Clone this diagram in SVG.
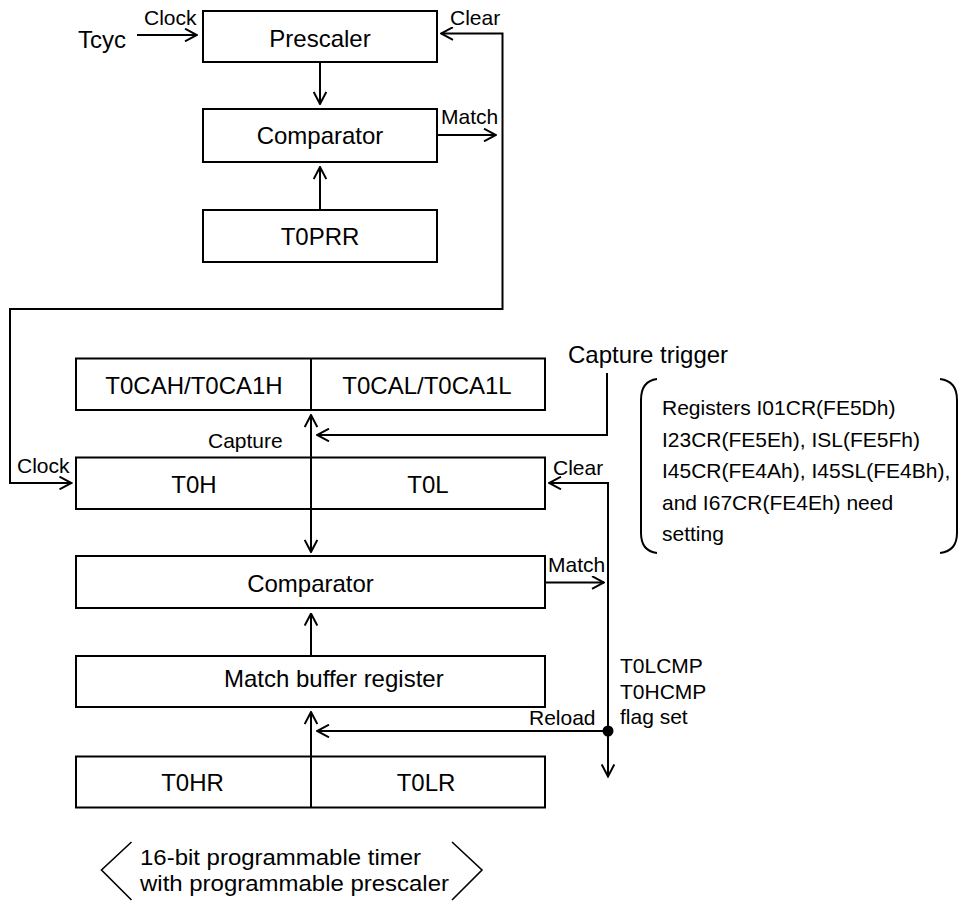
<svg xmlns="http://www.w3.org/2000/svg" width="966" height="906" viewBox="0 0 966 906">
<style>
.box{fill:#fff;stroke:#000;stroke-width:2}
.ln{fill:none;stroke:#000;stroke-width:2}
.big{font-family:"Liberation Sans",Arial,sans-serif;font-size:24px;fill:#000}
.sm{font-family:"Liberation Sans",Arial,sans-serif;font-size:21px;fill:#000}
.cap{font-family:"Liberation Sans",Arial,sans-serif;font-size:22px;fill:#000}
.mid{text-anchor:middle}
</style>
<defs>
<marker id="arr" viewBox="0 0 14 14" markerWidth="14" markerHeight="14" refX="13" refY="7" markerUnits="userSpaceOnUse" orient="auto-start-reverse">
<path d="M1,0.7 L13,7 L1,13.3" fill="none" stroke="#000" stroke-width="2"/>
</marker>
</defs>
<rect width="966" height="906" fill="#fff"/>

<g id="connectors">
<path class="ln" d="M137 35 H197" marker-end="url(#arr)"/>
<path class="ln" d="M320 62 V104" marker-end="url(#arr)"/>
<path class="ln" d="M320 210 V167" marker-end="url(#arr)"/>
<path class="ln" d="M437 135 H496" marker-end="url(#arr)"/>
<path class="ln" d="M71.5 483 H10 V309 H502.5 V33.5 H441" marker-start="url(#arr)" marker-end="url(#arr)"/>
<path class="ln" d="M607 373 V435 H317" marker-end="url(#arr)"/>
<path class="ln" d="M311 415 V552" marker-start="url(#arr)" marker-end="url(#arr)"/>
<path class="ln" d="M608 776.5 V483 H549" marker-start="url(#arr)" marker-end="url(#arr)"/>
<path class="ln" d="M545 582.5 H604" marker-end="url(#arr)"/>
<path class="ln" d="M311 656 V613.5" marker-end="url(#arr)"/>
<path class="ln" d="M311 756.5 V712" marker-end="url(#arr)"/>
<path class="ln" d="M608 731 H317" marker-end="url(#arr)"/>
<circle cx="608" cy="731" r="5.5" fill="#000"/>
</g>

<g id="labels">
<text class="big" x="78" y="48">Tcyc</text>
<text class="sm" x="144" y="25">Clock</text>
<text class="sm" x="450" y="25">Clear</text>
<text class="sm" x="441" y="124">Match</text>
<text class="big" x="568" y="363">Capture trigger</text>
<text class="sm" x="208" y="448">Capture</text>
<text class="sm" x="17" y="473">Clock</text>
<text class="sm" x="553" y="475">Clear</text>
<text class="sm" x="548" y="572">Match</text>
<text class="sm" x="529" y="725">Reload</text>
<text class="sm" x="620" y="673">T0LCMP</text>
<text class="sm" x="620" y="698.5">T0HCMP</text>
<text class="sm" x="620" y="724">flag set</text>
</g>

<g id="note">
<path class="ln" d="M657 379 Q641 381 641 400 V533 Q641 551 657 553"/>
<path class="ln" d="M940 379 Q957 381 957 400 V533 Q957 551 940 553"/>
<text class="sm" x="662" y="415">Registers I01CR(FE5Dh)</text>
<text class="sm" x="662" y="446.5">I23CR(FE5Eh), ISL(FE5Fh)</text>
<text class="sm" x="662" y="478">I45CR(FE4Ah), I45SL(FE4Bh),</text>
<text class="sm" x="662" y="509.5">and I67CR(FE4Eh) need</text>
<text class="sm" x="662" y="541">setting</text>
</g>

<g id="prescaler">
<rect class="box" x="203" y="11" width="234" height="51"/>
<text class="big mid" x="320" y="47">Prescaler</text>
</g>
<g id="comparator1">
<rect class="box" x="203" y="109" width="234" height="53"/>
<text class="big mid" x="320" y="144">Comparator</text>
</g>
<g id="t0prr">
<rect class="box" x="203" y="210" width="234" height="52"/>
<text class="big mid" x="320" y="245">T0PRR</text>
</g>
<g id="t0ca">
<rect class="box" x="76" y="358.5" width="469" height="51.5"/>
<line class="ln" x1="311" y1="358.5" x2="311" y2="410"/>
<text class="big mid" x="194" y="394">T0CAH/T0CA1H</text>
<text class="big mid" x="427" y="394">T0CAL/T0CA1L</text>
</g>
<g id="t0hl">
<rect class="box" x="76" y="457.5" width="469" height="51.5" style="fill:none"/>
<text class="big mid" x="194" y="493">T0H</text>
<text class="big mid" x="428" y="493">T0L</text>
</g>
<g id="comparator2">
<rect class="box" x="76" y="556" width="469" height="52"/>
<text class="big mid" x="310.5" y="591.5">Comparator</text>
</g>
<g id="matchbuf">
<rect class="box" x="76" y="656" width="469" height="51"/>
<text class="big" x="224" y="686.5">Match buffer register</text>
</g>
<g id="t0r">
<rect class="box" x="76" y="756.5" width="469" height="51"/>
<line class="ln" x1="311" y1="756.5" x2="311" y2="807.5"/>
<text class="big mid" x="192.5" y="790.5">T0HR</text>
<text class="big mid" x="426" y="790.5">T0LR</text>
</g>

<g id="caption">
<polyline fill="none" stroke="#000" stroke-width="1.6" points="131.5,842 101.5,870 131.5,900"/>
<polyline fill="none" stroke="#000" stroke-width="1.6" points="452,842 482,870 452,900"/>
<text class="cap" x="140" y="865" textLength="281" lengthAdjust="spacingAndGlyphs">16-bit programmable timer</text>
<text class="cap" x="140" y="891" textLength="309" lengthAdjust="spacingAndGlyphs">with programmable prescaler</text>
</g>
</svg>
